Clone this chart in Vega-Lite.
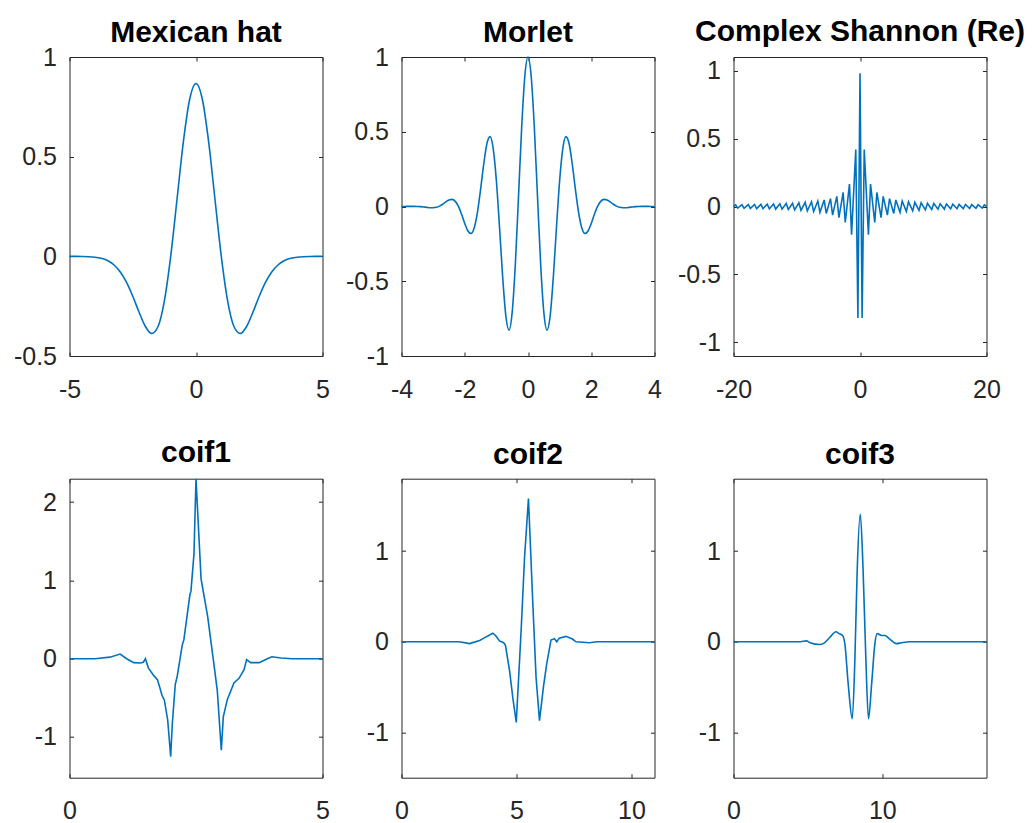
{
  "$schema": "https://vega.github.io/schema/vega-lite/v6.json",
  "background": "white",
  "padding": {"left": 12.5, "top": 16, "right": 0, "bottom": 0},
  "columns": 3,
  "bounds": "flush",
  "spacing": {"row": 122.7, "column": 79},
  "config": {
    "view": {"stroke": "#262626", "strokeWidth": 1},
    "font": "Liberation Sans",
    "title": {"font": "Liberation Sans", "fontSize": 30, "fontWeight": "bold", "color": "#000000", "frame": "group", "anchor": "middle", "baseline": "alphabetic", "offset": 8},
    "axis": {"grid": false, "domain": false, "title": null, "tickSize": -4, "tickColor": "#262626", "tickWidth": 1, "labelFont": "Liberation Sans", "labelFontSize": 25, "labelColor": "#262626", "labelFlush": false, "labelOverlap": false, "labelBound": false},
    "axisBottom": {"labelPadding": 25},
    "axisLeft": {"labelPadding": 17},
    "line": {"color": "#0072BD", "strokeWidth": 1.6, "clip": true}
  },
  "datasets": {
    "mexh": [
      {"t": -5, "v": -0.0001}, {"t": -4.75, "v": -0.0002}, {"t": -4.5, "v": -0.0007}, {"t": -4.25, "v": -0.0018},
      {"t": -4, "v": -0.0044}, {"t": -3.75, "v": -0.01}, {"t": -3.5, "v": -0.0213}, {"t": -3.25, "v": -0.0422},
      {"t": -3, "v": -0.0771}, {"t": -2.75, "v": -0.1298}, {"t": -2.5, "v": -0.2001}, {"t": -2.25, "v": -0.2804},
      {"t": -2, "v": -0.3521}, {"t": -1.75, "v": -0.387}, {"t": -1.5, "v": -0.352}, {"t": -1.25, "v": -0.2233},
      {"t": -1, "v": 0}, {"t": -0.75, "v": 0.2864}, {"t": -0.5, "v": 0.5741}, {"t": -0.25, "v": 0.7881},
      {"t": 0, "v": 0.8673},
      {"t": 0.25, "v": 0.7881}, {"t": 0.5, "v": 0.5741}, {"t": 0.75, "v": 0.2864}, {"t": 1, "v": 0},
      {"t": 1.25, "v": -0.2233}, {"t": 1.5, "v": -0.352}, {"t": 1.75, "v": -0.387}, {"t": 2, "v": -0.3521},
      {"t": 2.25, "v": -0.2804}, {"t": 2.5, "v": -0.2001}, {"t": 2.75, "v": -0.1298}, {"t": 3, "v": -0.0771},
      {"t": 3.25, "v": -0.0422}, {"t": 3.5, "v": -0.0213}, {"t": 3.75, "v": -0.01}, {"t": 4, "v": -0.0044},
      {"t": 4.25, "v": -0.0018}, {"t": 4.5, "v": -0.0007}, {"t": 4.75, "v": -0.0002}, {"t": 5, "v": -0.0001}
    ],
    "morl": [
      {"t": -4, "v": 0.0001}, {"t": -3.9, "v": 0.0003}, {"t": -3.8, "v": 0.0007}, {"t": -3.7, "v": 0.001},
      {"t": -3.6, "v": 0.001}, {"t": -3.5, "v": 0.0005}, {"t": -3.4, "v": -0.0009}, {"t": -3.3, "v": -0.0031},
      {"t": -3.2, "v": -0.0057}, {"t": -3.1, "v": -0.008}, {"t": -3, "v": -0.0084}, {"t": -2.9, "v": -0.0053},
      {"t": -2.8, "v": 0.0027}, {"t": -2.7, "v": 0.0156}, {"t": -2.6, "v": 0.0309}, {"t": -2.5, "v": 0.0438},
      {"t": -2.4, "v": 0.0474}, {"t": -2.3, "v": 0.0341}, {"t": -2.2, "v": 0.0004}, {"t": -2.1, "v": -0.0524},
      {"t": -2, "v": -0.1136}, {"t": -1.9, "v": -0.164}, {"t": -1.8, "v": -0.1803}, {"t": -1.7, "v": -0.1419},
      {"t": -1.6, "v": -0.0405}, {"t": -1.5, "v": 0.1125}, {"t": -1.4, "v": 0.2829}, {"t": -1.3, "v": 0.4195},
      {"t": -1.2, "v": 0.4674}, {"t": -1.1, "v": 0.387}, {"t": -1, "v": 0.1721}, {"t": -0.9, "v": -0.1406},
      {"t": -0.8, "v": -0.4746}, {"t": -0.7, "v": -0.733}, {"t": -0.6, "v": -0.8269}, {"t": -0.5, "v": -0.707},
      {"t": -0.4, "v": -0.3842}, {"t": -0.3, "v": 0.0676}, {"t": -0.2, "v": 0.5296}, {"t": -0.1, "v": 0.8732},
      {"t": 0, "v": 1},
      {"t": 0.1, "v": 0.8732}, {"t": 0.2, "v": 0.5296}, {"t": 0.3, "v": 0.0676}, {"t": 0.4, "v": -0.3842},
      {"t": 0.5, "v": -0.707}, {"t": 0.6, "v": -0.8269}, {"t": 0.7, "v": -0.733}, {"t": 0.8, "v": -0.4746},
      {"t": 0.9, "v": -0.1406}, {"t": 1, "v": 0.1721}, {"t": 1.1, "v": 0.387}, {"t": 1.2, "v": 0.4674},
      {"t": 1.3, "v": 0.4195}, {"t": 1.4, "v": 0.2829}, {"t": 1.5, "v": 0.1125}, {"t": 1.6, "v": -0.0405},
      {"t": 1.7, "v": -0.1419}, {"t": 1.8, "v": -0.1803}, {"t": 1.9, "v": -0.164}, {"t": 2, "v": -0.1136},
      {"t": 2.1, "v": -0.0524}, {"t": 2.2, "v": 0.0004}, {"t": 2.3, "v": 0.0341}, {"t": 2.4, "v": 0.0474},
      {"t": 2.5, "v": 0.0438}, {"t": 2.6, "v": 0.0309}, {"t": 2.7, "v": 0.0156}, {"t": 2.8, "v": 0.0027},
      {"t": 2.9, "v": -0.0053}, {"t": 3, "v": -0.0084}, {"t": 3.1, "v": -0.008}, {"t": 3.2, "v": -0.0057},
      {"t": 3.3, "v": -0.0031}, {"t": 3.4, "v": -0.0009}, {"t": 3.5, "v": 0.0005}, {"t": 3.6, "v": 0.001},
      {"t": 3.7, "v": 0.001}, {"t": 3.8, "v": 0.0007}, {"t": 3.9, "v": 0.0003}, {"t": 4, "v": 0.0001}
    ],
    "shan": [
      {"t": -20, "v": 0}, {"t": -19.667, "v": 0.012}, {"t": -19.333, "v": -0.012}, {"t": -18.667, "v": 0.013},
      {"t": -18.333, "v": -0.013}, {"t": -17.667, "v": 0.014}, {"t": -17.333, "v": -0.014}, {"t": -16.667, "v": 0.015},
      {"t": -16.333, "v": -0.015}, {"t": -15.667, "v": 0.016}, {"t": -15.333, "v": -0.016}, {"t": -14.667, "v": 0.017},
      {"t": -14.333, "v": -0.017}, {"t": -13.667, "v": 0.018}, {"t": -13.333, "v": -0.019}, {"t": -12.667, "v": 0.02},
      {"t": -12.333, "v": -0.02}, {"t": -11.667, "v": 0.022}, {"t": -11.333, "v": -0.022}, {"t": -10.667, "v": 0.024},
      {"t": -10.333, "v": -0.025}, {"t": -9.667, "v": 0.027}, {"t": -9.333, "v": -0.028}, {"t": -8.667, "v": 0.031},
      {"t": -8.333, "v": -0.032}, {"t": -7.667, "v": 0.035}, {"t": -7.333, "v": -0.037}, {"t": -6.667, "v": 0.04},
      {"t": -6.333, "v": -0.043}, {"t": -5.667, "v": 0.048}, {"t": -5.333, "v": -0.051}, {"t": -4.667, "v": 0.058},
      {"t": -4.333, "v": -0.063}, {"t": -3.667, "v": 0.074}, {"t": -3.333, "v": -0.082}, {"t": -2.667, "v": 0.103},
      {"t": -2.333, "v": -0.118}, {"t": -1.667, "v": 0.165}, {"t": -1.333, "v": -0.207}, {"t": -0.667, "v": 0.42},
      {"t": -0.333, "v": -0.82},
      {"t": 0, "v": 0.98},
      {"t": 0.333, "v": -0.82}, {"t": 0.667, "v": 0.42}, {"t": 1.333, "v": -0.207}, {"t": 1.667, "v": 0.165},
      {"t": 2.333, "v": -0.118}, {"t": 2.667, "v": 0.103}, {"t": 3.333, "v": -0.082}, {"t": 3.667, "v": 0.074},
      {"t": 4.333, "v": -0.063}, {"t": 4.667, "v": 0.058}, {"t": 5.333, "v": -0.051}, {"t": 5.667, "v": 0.048},
      {"t": 6.333, "v": -0.043}, {"t": 6.667, "v": 0.04}, {"t": 7.333, "v": -0.037}, {"t": 7.667, "v": 0.035},
      {"t": 8.333, "v": -0.032}, {"t": 8.667, "v": 0.031}, {"t": 9.333, "v": -0.028}, {"t": 9.667, "v": 0.027},
      {"t": 10.333, "v": -0.025}, {"t": 10.667, "v": 0.024}, {"t": 11.333, "v": -0.022}, {"t": 11.667, "v": 0.022},
      {"t": 12.333, "v": -0.02}, {"t": 12.667, "v": 0.02}, {"t": 13.333, "v": -0.019}, {"t": 13.667, "v": 0.018},
      {"t": 14.333, "v": -0.017}, {"t": 14.667, "v": 0.017}, {"t": 15.333, "v": -0.016}, {"t": 15.667, "v": 0.016},
      {"t": 16.333, "v": -0.015}, {"t": 16.667, "v": 0.015}, {"t": 17.333, "v": -0.014}, {"t": 17.667, "v": 0.014},
      {"t": 18.333, "v": -0.013}, {"t": 18.667, "v": 0.013}, {"t": 19.333, "v": -0.012}, {"t": 19.667, "v": 0.012},
      {"t": 20, "v": 0}
    ],
    "coif1": [
      {"t": 0, "v": 0}, {"t": 0.5, "v": 0}, {"t": 0.8, "v": 0.02}, {"t": 1.0, "v": 0.06}, {"t": 1.13, "v": 0.0},
      {"t": 1.27, "v": -0.05}, {"t": 1.4, "v": -0.055}, {"t": 1.46, "v": -0.045}, {"t": 1.5, "v": 0.0},
      {"t": 1.56, "v": -0.12}, {"t": 1.66, "v": -0.21}, {"t": 1.74, "v": -0.27}, {"t": 1.83, "v": -0.47},
      {"t": 1.875, "v": -0.53}, {"t": 1.94, "v": -0.78}, {"t": 2.0, "v": -1.25}, {"t": 2.03, "v": -0.85},
      {"t": 2.09, "v": -0.33}, {"t": 2.13, "v": -0.22}, {"t": 2.23, "v": 0.18}, {"t": 2.26, "v": 0.24},
      {"t": 2.38, "v": 0.82}, {"t": 2.4, "v": 0.86}, {"t": 2.46, "v": 1.34}, {"t": 2.5, "v": 2.3},
      {"t": 2.6, "v": 1.02}, {"t": 2.73, "v": 0.54}, {"t": 2.85, "v": -0.05},
      {"t": 2.92, "v": -0.4}, {"t": 3.0, "v": -1.17}, {"t": 3.04, "v": -0.74}, {"t": 3.12, "v": -0.52},
      {"t": 3.25, "v": -0.31}, {"t": 3.35, "v": -0.25}, {"t": 3.45, "v": -0.14}, {"t": 3.5, "v": -0.01},
      {"t": 3.58, "v": -0.05}, {"t": 3.75, "v": -0.05}, {"t": 3.91, "v": 0.0}, {"t": 4.0, "v": 0.025},
      {"t": 4.18, "v": 0.01}, {"t": 4.4, "v": 0.0}, {"t": 5.0, "v": 0.0}
    ],
    "coif2": [
      {"t": 0, "v": 0}, {"t": 2.5, "v": 0}, {"t": 2.96, "v": -0.02}, {"t": 3.4, "v": 0.015}, {"t": 3.54, "v": 0.035},
      {"t": 3.97, "v": 0.095}, {"t": 4.09, "v": 0.07}, {"t": 4.2, "v": 0.03}, {"t": 4.26, "v": 0.01},
      {"t": 4.44, "v": -0.01}, {"t": 4.52, "v": -0.04}, {"t": 4.7, "v": -0.32}, {"t": 4.84, "v": -0.62},
      {"t": 4.99, "v": -0.89}, {"t": 5.2, "v": 0.12}, {"t": 5.35, "v": 0.93}, {"t": 5.52, "v": 1.58},
      {"t": 5.71, "v": 0.42}, {"t": 5.85, "v": -0.39}, {"t": 6.0, "v": -0.87}, {"t": 6.17, "v": -0.5},
      {"t": 6.31, "v": -0.25}, {"t": 6.5, "v": 0.02}, {"t": 6.65, "v": 0.035}, {"t": 6.75, "v": 0.0},
      {"t": 6.86, "v": 0.04}, {"t": 7.15, "v": 0.06}, {"t": 7.43, "v": 0.03}, {"t": 7.59, "v": 0.0},
      {"t": 8.17, "v": -0.01}, {"t": 8.5, "v": 0}, {"t": 11, "v": 0}
    ],
    "coif3": [
      {"t": 0, "v": 0}, {"t": 4.5, "v": 0}, {"t": 4.9, "v": 0.01}, {"t": 5.14, "v": -0.01}, {"t": 5.81, "v": -0.03},
      {"t": 6.03, "v": -0.02}, {"t": 6.48, "v": 0.05}, {"t": 6.88, "v": 0.11}, {"t": 7.1, "v": 0.09},
      {"t": 7.33, "v": 0.07}, {"t": 7.48, "v": -0.02}, {"t": 7.71, "v": -0.47}, {"t": 7.98, "v": -0.85},
      {"t": 8.16, "v": -0.17}, {"t": 8.31, "v": 0.78}, {"t": 8.52, "v": 1.41}, {"t": 8.71, "v": 0.78},
      {"t": 8.89, "v": -0.17}, {"t": 9.07, "v": -0.85}, {"t": 9.28, "v": -0.47}, {"t": 9.5, "v": -0.02},
      {"t": 9.65, "v": 0.09}, {"t": 9.94, "v": 0.07}, {"t": 10.17, "v": 0.07}, {"t": 10.5, "v": 0.03},
      {"t": 10.95, "v": -0.02}, {"t": 11.3, "v": -0.01}, {"t": 11.84, "v": 0}, {"t": 17, "v": 0}
    ]
  },
  "concat": [
    {
      "title": {"text": "Mexican hat", "offset": -3},
      "width": 253, "height": 299,
      "data": {"name": "mexh"},
      "layer": [
        {"mark": {"type": "line", "interpolate": "monotone"},
         "encoding": {
           "x": {"field": "t", "type": "quantitative", "scale": {"domain": [-5, 5], "nice": false, "zero": false},
                 "axis": {"orient": "bottom", "values": [-5, 0, 5], "labelExpr": "replace(format(datum.value, '~g'), '\u2212', '-')"}},
           "y": {"field": "v", "type": "quantitative", "scale": {"domain": [-0.5, 1], "nice": false, "zero": false},
                 "axis": {"orient": "left", "values": [-0.5, 0, 0.5, 1], "labelExpr": "replace(format(datum.value, '~g'), '\u2212', '-')"}}
         }},
        {"mark": {"type": "line", "strokeOpacity": 0},
         "encoding": {
           "x": {"field": "t", "type": "quantitative", "axis": {"orient": "top", "values": [-5, 0, 5], "labels": false}},
           "y": {"field": "v", "type": "quantitative", "axis": {"orient": "right", "values": [-0.5, 0, 0.5, 1], "labels": false}}
         }}
      ],
      "resolve": {"axis": {"x": "independent", "y": "independent"}}
    },
    {
      "title": {"text": "Morlet", "offset": -3},
      "width": 253, "height": 299,
      "data": {"name": "morl"},
      "layer": [
        {"mark": {"type": "line", "interpolate": "monotone"},
         "encoding": {
           "x": {"field": "t", "type": "quantitative", "scale": {"domain": [-4, 4], "nice": false, "zero": false},
                 "axis": {"orient": "bottom", "values": [-4, -2, 0, 2, 4], "labelExpr": "replace(format(datum.value, '~g'), '\u2212', '-')"}},
           "y": {"field": "v", "type": "quantitative", "scale": {"domain": [-1, 1], "nice": false, "zero": false},
                 "axis": {"orient": "left", "values": [-1, -0.5, 0, 0.5, 1], "labelExpr": "replace(format(datum.value, '~g'), '\u2212', '-')"}}
         }},
        {"mark": {"type": "line", "strokeOpacity": 0},
         "encoding": {
           "x": {"field": "t", "type": "quantitative", "axis": {"orient": "top", "values": [-4, -2, 0, 2, 4], "labels": false}},
           "y": {"field": "v", "type": "quantitative", "axis": {"orient": "right", "values": [-1, -0.5, 0, 0.5, 1], "labels": false}}
         }}
      ],
      "resolve": {"axis": {"x": "independent", "y": "independent"}}
    },
    {
      "title": {"text": "Complex Shannon (Re)", "offset": 10},
      "width": 253, "height": 299,
      "data": {"name": "shan"},
      "layer": [
        {"mark": {"type": "line"},
         "encoding": {
           "x": {"field": "t", "type": "quantitative", "scale": {"domain": [-20, 20], "nice": false, "zero": false},
                 "axis": {"orient": "bottom", "values": [-20, 0, 20], "labelExpr": "replace(format(datum.value, '~g'), '\u2212', '-')"}},
           "y": {"field": "v", "type": "quantitative", "scale": {"domain": [-1.1, 1.1], "nice": false, "zero": false},
                 "axis": {"orient": "left", "values": [-1, -0.5, 0, 0.5, 1], "labelExpr": "replace(format(datum.value, '~g'), '\u2212', '-')"}}
         }},
        {"mark": {"type": "line", "strokeOpacity": 0},
         "encoding": {
           "x": {"field": "t", "type": "quantitative", "axis": {"orient": "top", "values": [-20, 0, 20], "labels": false}},
           "y": {"field": "v", "type": "quantitative", "axis": {"orient": "right", "values": [-1, -0.5, 0, 0.5, 1], "labels": false}}
         }}
      ],
      "resolve": {"axis": {"x": "independent", "y": "independent"}}
    },
    {
      "title": {"text": "coif1", "offset": 8},
      "width": 253, "height": 299,
      "data": {"name": "coif1"},
      "layer": [
        {"mark": {"type": "line"},
         "encoding": {
           "x": {"field": "t", "type": "quantitative", "scale": {"domain": [0, 5], "nice": false, "zero": false},
                 "axis": {"orient": "bottom", "values": [0, 5], "labelExpr": "replace(format(datum.value, '~g'), '\u2212', '-')"}},
           "y": {"field": "v", "type": "quantitative", "scale": {"domain": [-1.52, 2.3], "nice": false, "zero": false},
                 "axis": {"orient": "left", "values": [-1, 0, 1, 2], "labelExpr": "replace(format(datum.value, '~g'), '\u2212', '-')"}}
         }},
        {"mark": {"type": "line", "strokeOpacity": 0},
         "encoding": {
           "x": {"field": "t", "type": "quantitative", "axis": {"orient": "top", "values": [0, 5], "labels": false}},
           "y": {"field": "v", "type": "quantitative", "axis": {"orient": "right", "values": [-1, 0, 1, 2], "labels": false}}
         }}
      ],
      "resolve": {"axis": {"x": "independent", "y": "independent"}}
    },
    {
      "title": {"text": "coif2", "offset": 8},
      "width": 253, "height": 299,
      "data": {"name": "coif2"},
      "layer": [
        {"mark": {"type": "line"},
         "encoding": {
           "x": {"field": "t", "type": "quantitative", "scale": {"domain": [0, 11], "nice": false, "zero": false},
                 "axis": {"orient": "bottom", "values": [0, 5, 10], "labelExpr": "replace(format(datum.value, '~g'), '\u2212', '-')"}},
           "y": {"field": "v", "type": "quantitative", "scale": {"domain": [-1.5, 1.8], "nice": false, "zero": false},
                 "axis": {"orient": "left", "values": [-1, 0, 1], "labelExpr": "replace(format(datum.value, '~g'), '\u2212', '-')"}}
         }},
        {"mark": {"type": "line", "strokeOpacity": 0},
         "encoding": {
           "x": {"field": "t", "type": "quantitative", "axis": {"orient": "top", "values": [0, 5, 10], "labels": false}},
           "y": {"field": "v", "type": "quantitative", "axis": {"orient": "right", "values": [-1, 0, 1], "labels": false}}
         }}
      ],
      "resolve": {"axis": {"x": "independent", "y": "independent"}}
    },
    {
      "title": {"text": "coif3", "offset": 8},
      "width": 253, "height": 299,
      "data": {"name": "coif3"},
      "layer": [
        {"mark": {"type": "line", "interpolate": "monotone"},
         "encoding": {
           "x": {"field": "t", "type": "quantitative", "scale": {"domain": [0, 17], "nice": false, "zero": false},
                 "axis": {"orient": "bottom", "values": [0, 10], "labelExpr": "replace(format(datum.value, '~g'), '\u2212', '-')"}},
           "y": {"field": "v", "type": "quantitative", "scale": {"domain": [-1.5, 1.8], "nice": false, "zero": false},
                 "axis": {"orient": "left", "values": [-1, 0, 1], "labelExpr": "replace(format(datum.value, '~g'), '\u2212', '-')"}}
         }},
        {"mark": {"type": "line", "strokeOpacity": 0},
         "encoding": {
           "x": {"field": "t", "type": "quantitative", "axis": {"orient": "top", "values": [0, 10], "labels": false}},
           "y": {"field": "v", "type": "quantitative", "axis": {"orient": "right", "values": [-1, 0, 1], "labels": false}}
         }}
      ],
      "resolve": {"axis": {"x": "independent", "y": "independent"}}
    }
  ]
}
